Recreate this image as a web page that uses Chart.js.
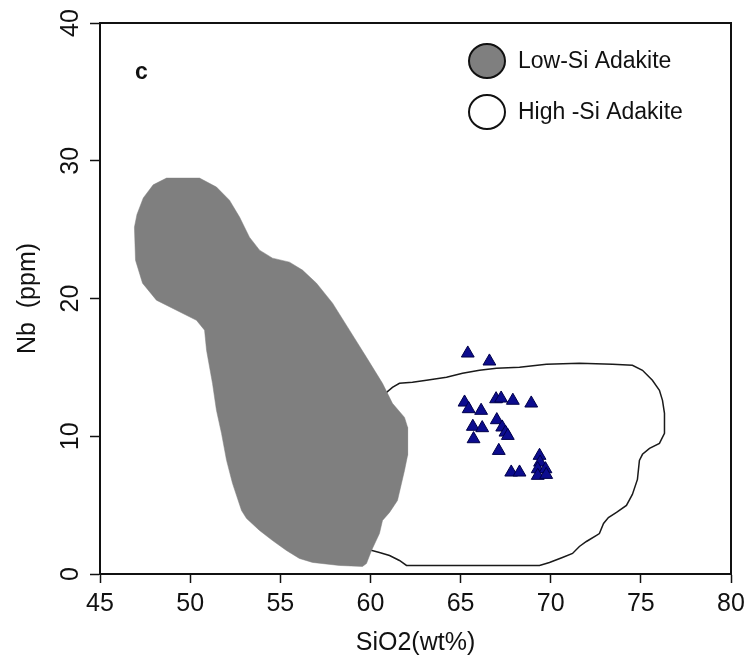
<!DOCTYPE html>
<html>
<head>
<meta charset="utf-8">
<script src="https://cdn.jsdelivr.net/npm/chart.js@4/dist/chart.umd.min.js"></script>
<style>
  html, body { margin: 0; padding: 0; background: #ffffff; }
</style>
</head>
<body>
<canvas id="chart" width="748" height="658"></canvas>
<script>
// Axis ticks
const xTicks = [45, 50, 55, 60, 65, 70, 75, 80];
const yTicks = [0, 10, 20, 30, 40];

// Field outlines as [SiO2, Nb] vertices
const lowSiField = [
  [48.69, 28.74], [50.52, 28.74], [51.46, 28.09], [52.18, 27.14], [52.74, 25.91],
  [53.29, 24.45], [53.85, 23.51], [54.57, 22.93], [55.51, 22.64], [56.23, 22.06],
  [57.01, 21.11], [57.90, 19.66], [58.84, 17.70], [59.78, 15.73], [60.67, 13.84],
  [61.22, 12.39], [61.89, 11.37], [62.06, 10.65], [62.06, 8.61], [61.89, 7.52],
  [61.50, 5.34], [61.06, 4.47], [60.67, 3.89], [60.50, 2.94], [60.06, 1.71],
  [59.78, 0.76], [59.56, 0.55], [58.28, 0.62], [56.79, 0.84], [56.06, 1.13],
  [55.34, 1.71], [54.57, 2.43], [53.85, 3.16], [53.13, 4.03], [52.85, 4.61],
  [52.35, 6.58], [52.02, 8.25], [51.74, 10.21], [51.46, 11.88], [51.24, 13.84],
  [50.91, 16.24], [50.80, 17.70], [50.35, 18.42], [49.24, 19.15], [48.13, 19.88],
  [47.36, 21.11], [46.97, 22.78], [46.91, 25.18], [47.05, 26.10], [47.40, 27.30],
  [47.95, 28.25]
];

const highSiField = [
  [60.50, 12.75], [61.22, 13.55], [61.61, 13.84], [62.33, 13.92], [63.11, 14.06],
  [64.22, 14.28], [65.11, 14.57], [66.05, 14.79], [66.99, 14.93], [68.27, 15.01],
  [69.76, 15.23], [71.59, 15.30], [73.43, 15.23], [74.53, 15.15], [75.09, 14.79],
  [75.64, 14.06], [76.03, 13.34], [76.20, 12.61], [76.31, 11.66], [76.31, 10.21],
  [76.03, 9.48], [75.48, 9.12], [75.09, 8.69], [74.92, 8.25], [74.81, 6.87],
  [74.53, 5.78], [74.20, 4.98], [73.65, 4.47], [73.20, 4.10], [72.93, 3.67],
  [72.70, 2.94], [72.54, 2.80], [71.98, 2.36], [71.59, 2.00], [71.21, 1.49],
  [70.65, 1.20], [69.93, 0.84], [69.38, 0.62], [62.00, 0.62], [61.61, 0.98],
  [61.06, 1.34], [60.50, 1.56], [59.67, 1.85], [59.95, 5.34], [60.39, 9.70]
];

// Sample analyses
const sampleSiO2 = [
  65.40, 66.60, 65.22, 65.45, 66.14, 66.97, 67.25, 67.90, 68.92, 65.68,
  66.20, 65.72, 67.01, 67.31, 67.49, 67.62, 67.12, 67.81, 68.27, 69.38,
  69.41, 69.28, 69.71, 69.28, 69.75
];
const sampleNb = [
  16.02, 15.44, 12.46, 11.98, 11.86, 12.70, 12.75, 12.59, 12.39, 10.70,
  10.60, 9.80, 11.18, 10.65, 10.28, 10.04, 8.95, 7.38, 7.38, 8.59,
  8.10, 7.62, 7.62, 7.14, 7.21
];

const legendLabels = ['Low-Si Adakite', 'High -Si Adakite'];
const panelLetter = 'c';

const FONT = '"Liberation Sans", Arial, Helvetica, sans-serif';
const INK = '#111111';
const GREY = '#7f7f7f';

const toPoints = (field) => {
  const pts = field.map(([x, y]) => ({ x, y }));
  pts.push({ x: field[0][0], y: field[0][1] });
  return pts;
};

const samplePoints = sampleSiO2.map((x, i) => ({ x, y: sampleNb[i] }));

// Frame, rotated y tick labels, legend and panel letter
const decorations = {
  id: 'decorations',
  afterDraw(chart) {
    const { ctx, chartArea: a, scales } = chart;
    ctx.save();

    // box around plot
    ctx.strokeStyle = INK;
    ctx.lineWidth = 2;
    ctx.strokeRect(a.left, a.top, a.right - a.left, a.bottom - a.top);

    // y tick labels, reading upward
    ctx.fillStyle = INK;
    ctx.font = '25px ' + FONT;
    ctx.textAlign = 'center';
    ctx.textBaseline = 'middle';
    yTicks.forEach((v) => {
      const py = scales.y.getPixelForValue(v);
      ctx.save();
      ctx.translate(71, py);
      ctx.rotate(-Math.PI / 2);
      ctx.fillText(String(v), 0, 0);
      ctx.restore();
    });

    // panel letter
    ctx.font = 'bold 23px ' + FONT;
    ctx.textAlign = 'left';
    ctx.fillText(panelLetter, a.left + 35, a.top + 50);

    // legend
    const lx = a.left + 387;
    const rows = [a.top + 38, a.top + 89];
    const fills = [GREY, '#ffffff'];
    ctx.font = '23px ' + FONT;
    rows.forEach((ry, i) => {
      ctx.beginPath();
      ctx.ellipse(lx, ry, 18, 17, 0, 0, Math.PI * 2);
      ctx.fillStyle = fills[i];
      ctx.fill();
      ctx.lineWidth = 2;
      ctx.strokeStyle = INK;
      ctx.stroke();
      ctx.fillStyle = INK;
      ctx.textAlign = 'left';
      ctx.textBaseline = 'middle';
      ctx.fillText(legendLabels[i], lx + 31, ry + 1);
    });

    ctx.restore();
  }
};

new Chart(document.getElementById('chart'), {
  type: 'scatter',
  data: {
    datasets: [
      {
        label: 'samples',
        data: samplePoints,
        order: 0,
        pointStyle: 'triangle',
        pointRadius: 7.4,
        pointHoverRadius: 7.4,
        backgroundColor: '#0c0c8e',
        borderColor: '#00004a',
        borderWidth: 1
      },
      {
        label: legendLabels[0],
        type: 'line',
        data: toPoints(lowSiField),
        order: 1,
        fill: 'shape',
        backgroundColor: GREY,
        borderColor: GREY,
        borderWidth: 0.5,
        pointRadius: 0,
        tension: 0
      },
      {
        label: legendLabels[1],
        type: 'line',
        data: toPoints(highSiField),
        order: 2,
        fill: 'shape',
        backgroundColor: '#ffffff',
        borderColor: '#1a1a1a',
        borderWidth: 1.5,
        pointRadius: 0,
        tension: 0
      }
    ]
  },
  options: {
    responsive: false,
    animation: false,
    devicePixelRatio: 1,
    layout: { padding: { left: 0, right: 17, top: 23, bottom: 0 } },
    plugins: {
      legend: { display: false },
      tooltip: { enabled: false },
      title: { display: false }
    },
    scales: {
      x: {
        type: 'linear',
        min: 45,
        max: 80,
        afterBuildTicks: (s) => { s.ticks = xTicks.map((v) => ({ value: v })); },
        afterFit: (s) => { s.height = 84; s.paddingLeft = 0; s.paddingRight = 0; },
        ticks: {
          color: INK,
          font: { family: FONT, size: 25 },
          padding: 6
        },
        grid: {
          display: true,
          drawOnChartArea: false,
          drawTicks: true,
          tickLength: 9,
          tickColor: INK,
          tickWidth: 1.5
        },
        border: { display: true, color: INK, width: 2 },
        title: {
          display: true,
          text: 'SiO2(wt%)',
          color: INK,
          font: { family: FONT, size: 25 },
          padding: { top: 0, bottom: 0 }
        }
      },
      y: {
        type: 'linear',
        min: 0,
        max: 40,
        afterBuildTicks: (s) => { s.ticks = yTicks.map((v) => ({ value: v })); },
        afterFit: (s) => { s.width = 100; s.paddingTop = 0; s.paddingBottom = 0; },
        ticks: { display: false },
        grid: {
          display: true,
          drawOnChartArea: false,
          drawTicks: true,
          tickLength: 10,
          tickColor: INK,
          tickWidth: 1.5
        },
        border: { display: true, color: INK, width: 2 },
        title: {
          display: true,
          text: 'Nb  (ppm)',
          color: INK,
          font: { family: FONT, size: 25 },
          padding: { top: 13, bottom: 0 }
        }
      }
    }
  },
  plugins: [decorations]
});
</script>
</body>
</html>
